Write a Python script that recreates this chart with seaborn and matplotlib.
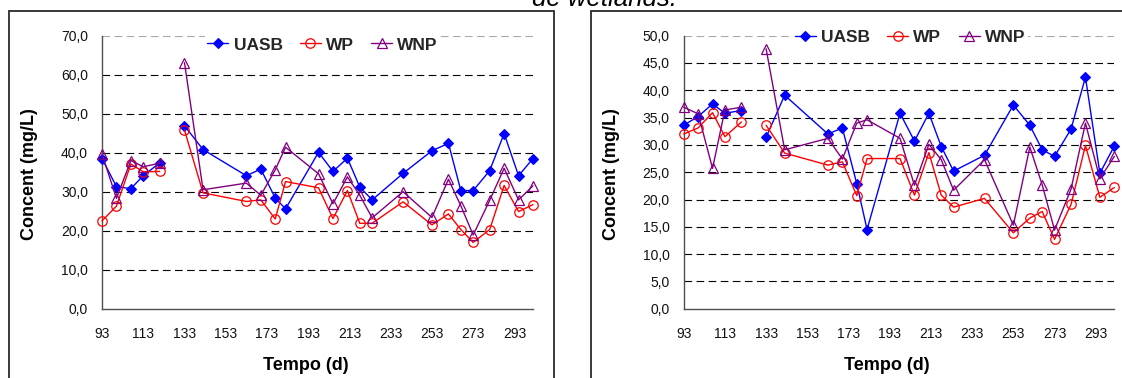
import numpy as np
import pandas as pd
import matplotlib
matplotlib.use("Agg")
import matplotlib.pyplot as plt
import seaborn as sns
from matplotlib.lines import Line2D
from matplotlib.patches import Rectangle

# ---------------- data ----------------
days = [93, 100, 107, 113, 121, 133, 142, 163, 170, 177, 182, 198, 205, 212,
        218, 224, 239, 253, 261, 267, 273, 281, 288, 295, 302]
segment = [0] * 5 + [1] * 20   # gap in the series between day 121 and 133

left_uasb = [38.5, 31.3, 30.8, 34.1, 37.4, 46.9, 40.8, 34.1, 35.8, 28.4, 25.6, 40.1, 35.2,
             38.6, 31.2, 27.9, 34.7, 40.5, 42.4, 30.3, 30.3, 35.4, 44.9, 34.1, 38.5]
left_wp = [22.5, 26.3, 37.1, 35.1, 35.2, 45.8, 29.7, 27.5, 27.9, 23.0, 32.6, 31.0, 23.1,
           30.3, 21.9, 21.9, 27.4, 21.5, 24.3, 20.3, 17.0, 20.3, 31.6, 24.9, 26.7]
left_wnp = [39.7, 28.3, 38.0, 36.4, 37.3, 63.1, 30.5, 32.2, 29.1, 35.6, 41.4, 34.6, 26.9,
            33.8, 29.1, 23.3, 30.0, 23.4, 33.2, 26.4, 18.9, 27.8, 36.0, 27.9, 31.5]

right_uasb = [33.6, 35.2, 37.5, 35.8, 36.3, 31.4, 39.1, 32.0, 33.1, 22.9, 14.5, 35.8, 30.7,
              35.8, 29.7, 25.2, 28.1, 37.3, 33.6, 29.1, 27.9, 32.9, 42.4, 24.8, 29.8]
right_wp = [32.0, 33.1, 35.9, 31.5, 34.2, 33.6, 28.5, 26.3, 26.9, 20.7, 27.5, 27.5, 20.8,
            28.6, 20.8, 18.6, 20.2, 13.9, 16.6, 17.8, 12.7, 19.1, 29.9, 20.4, 22.2]
right_wnp = [36.9, 35.7, 25.7, 36.4, 36.9, 47.6, 29.1, 31.2, 27.4, 34.0, 34.6, 31.2, 22.6,
             30.1, 27.3, 21.7, 27.3, 15.3, 29.6, 22.7, 14.4, 21.9, 34.0, 23.8, 27.9]

series_names = ["UASB", "WP", "WNP"]
x_ticks = [93, 113, 133, 153, 173, 193, 213, 233, 253, 273, 293]
left_yticks = [0, 10, 20, 30, 40, 50, 60, 70]
right_yticks = [0, 5, 10, 15, 20, 25, 30, 35, 40, 45, 50]
x_label = "Tempo (d)"
y_label = "Concent (mg/L)"
title_fragment = "de wetlands."

# ---------------- style ----------------
sns.set_theme(style="white")
plt.rcParams["font.family"] = ["Liberation Sans", "DejaVu Sans"]
plt.rcParams["lines.scale_dashes"] = False

W, H = 1122, 378
fig = plt.figure(figsize=(W / 100, H / 100), dpi=100)
fig.patch.set_facecolor("white")

styles = {
    "UASB": dict(color="#0000FF", marker="D", markersize=5.0, markerfacecolor="#0000FF",
                 markeredgecolor="#0000FF", markeredgewidth=0.8),
    "WP": dict(color="#FF0000", marker="o", markersize=6.8, markerfacecolor="none",
               markeredgecolor="#FF0000", markeredgewidth=0.9),
    "WNP": dict(color="#800080", marker="^", markersize=7.2, markerfacecolor="none",
                markeredgecolor="#800080", markeredgewidth=0.9),
}

def px_axes(x0, x1, ytop, ybot):
    return fig.add_axes([x0 / W, 1 - ybot / H, (x1 - x0) / W, (ybot - ytop) / H])

def draw_panel(ax, values, yticks, legend_xy):
    frames = []
    for name, vals in zip(series_names, values):
        frames.append(pd.DataFrame({"day": days, "value": vals, "segment": segment,
                                    "series": name}))
    df = pd.concat(frames, ignore_index=True)
    for name in series_names:
        sub = df[df["series"] == name]
        sns.lineplot(data=sub, x="day", y="value", units="segment", estimator=None,
                     ax=ax, linewidth=1.0, clip_on=False, zorder=3, legend=False,
                     **styles[name])
    ax.set_xlim(93, 302)
    ax.set_ylim(yticks[0], yticks[-1])
    ax.set_xticks(x_ticks)
    ax.set_xticklabels([str(t) for t in x_ticks])
    ax.set_yticks(yticks)
    ax.set_yticklabels([f"{t:.1f}".replace(".", ",") for t in yticks])
    ax.set_xlabel("")
    ax.set_ylabel("")
    ax.set_facecolor("white")
    for s in ["top", "right"]:
        ax.spines[s].set_visible(False)
    for s in ["left", "bottom"]:
        ax.spines[s].set_color("#505050")
        ax.spines[s].set_linewidth(1.0)
    ax.tick_params(axis="both", direction="out", length=3.6, width=0.8, color="#505050",
                   labelsize=10, labelcolor="#111111")
    ax.tick_params(axis="x", pad=9.5)
    ax.tick_params(axis="y", pad=6.5)
    ax.set_axisbelow(True)
    # dashed gridlines
    for t in yticks[1:]:
        c = "#A8A8A8" if t == yticks[-1] else "#000000"
        ax.axhline(t, color=c, linewidth=0.8, linestyle=(0, (5.5, 3.2)), zorder=1)
    handles = [Line2D([], [], linewidth=1.0, **styles[n]) for n in series_names]
    leg = ax.legend(handles, series_names, loc="center", bbox_to_anchor=legend_xy,
                    ncol=3, frameon=True, fancybox=False, framealpha=1.0,
                    handlelength=1.2, handletextpad=0.3, columnspacing=1.0,
                    borderpad=0.15, borderaxespad=0.0,
                    prop={"weight": "bold", "size": 12.5})
    leg.get_frame().set_facecolor("white")
    leg.get_frame().set_edgecolor("none")
    leg.set_zorder(5)

ax1 = px_axes(102, 533, 35.7, 308.7)
draw_panel(ax1, [left_uasb, left_wp, left_wnp], left_yticks, (0.512, 0.966))

ax2 = px_axes(683.7, 1114.3, 35.7, 308.7)
draw_panel(ax2, [right_uasb, right_wp, right_wnp], right_yticks, (0.526, 0.995))

# axis titles
fig.text(29 / W, 1 - 174 / H, y_label, rotation=90, ha="center", va="center",
         fontsize=13, fontweight="bold", color="#000000")
fig.text(612 / W, 1 - 174 / H, y_label, rotation=90, ha="center", va="center",
         fontsize=13, fontweight="bold", color="#000000")
fig.text(306 / W, 1 - 366 / H, x_label, ha="center", va="center",
         fontsize=13, fontweight="bold", color="#000000")
fig.text(887 / W, 1 - 366 / H, x_label, ha="center", va="center",
         fontsize=13, fontweight="bold", color="#000000")

# chart-area borders (partially outside the crop)
fig.patches.append(Rectangle((8.7 / W, -0.05), (554 - 8.7) / W, 1.05 - 11 / H,
                             transform=fig.transFigure, fill=False,
                             edgecolor="#2a2a2a", linewidth=1.3))
fig.patches.append(Rectangle((590.5 / W, -0.05), 0.6, 1.05 - 11 / H,
                             transform=fig.transFigure, fill=False,
                             edgecolor="#2a2a2a", linewidth=1.3))

# clipped caption fragment at the very top
fig.text(604 / W, 1 - 5.5 / H, title_fragment, ha="center", va="baseline",
         fontsize=18.5, fontstyle="italic", color="#000000")

fig.savefig("out.png", dpi=100, facecolor="white")
